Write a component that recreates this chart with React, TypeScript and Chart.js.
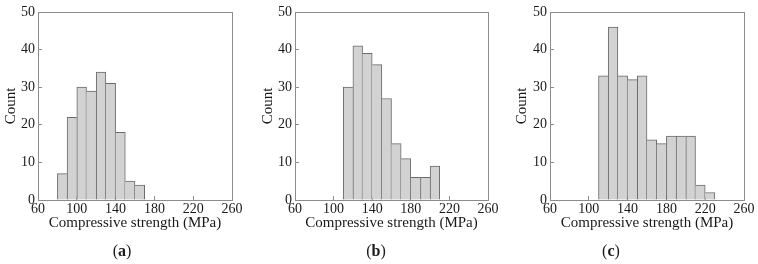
import React, { useEffect, useRef } from "react";
import { Chart, registerables } from "chart.js";

Chart.register(...registerables);

// ---- data ----
const binCentersA = [85, 95, 105, 115, 125, 135, 145, 155, 165];
const countsA = [7, 22, 30, 29, 34, 31, 18, 5, 4];

const binCentersB = [115, 125, 135, 145, 155, 165, 175, 185, 195, 205];
const countsB = [30, 41, 39, 36, 27, 15, 11, 6, 6, 9];

const binCentersC = [115, 125, 135, 145, 155, 165, 175, 185, 195, 205, 215, 225];
const countsC = [33, 46, 33, 32, 33, 16, 15, 17, 17, 17, 4, 2];

const xMin = 60;
const xMax = 260;
const xStep = 40;
const yMin = 0;
const yMax = 50;
const yStep = 10;

const xTitle = "Compressive strength (MPa)";
const yTitle = "Count";
const panelLetters = ["a", "b", "c"];

// ---- layout / style ----
const FONT = "'Liberation Serif', 'Times New Roman', serif";
const PAGE_H = 264;
const CANVAS_TOP = -8; // canvas starts above page so the top padding dominates
const CANVAS_H = PAGE_H - CANVAS_TOP;
const TOP = 12; // chart area top in page coords
const BOTTOM = 200; // chart area bottom in page coords
const RIGHT_PAD = 24;

const panels = [
  { centers: binCentersA, counts: countsA, canvasLeft: 0, areaLeft: 38, areaRight: 232, yTitleCenter: 11, labelCenter: 122 },
  { centers: binCentersB, counts: countsB, canvasLeft: 250, areaLeft: 295, areaRight: 488, yTitleCenter: 268, labelCenter: 376 },
  { centers: binCentersC, counts: countsC, canvasLeft: 500, areaLeft: 550, areaRight: 744, yTitleCenter: 522, labelCenter: 611 },
];

const boxPlugin = {
  id: "boxFrame",
  afterDatasetsDraw(chart: any) {
    const { left, top, right, bottom } = chart.chartArea;
    const ctx = chart.ctx;
    ctx.save();
    ctx.strokeStyle = "#8c8c8c";
    ctx.lineWidth = 1;
    const l = Math.round(left) + 0.5;
    const t = Math.round(top) + 0.5;
    const r = Math.round(right) + 0.5;
    const b = Math.round(bottom) + 0.5;
    ctx.strokeRect(l, t, r - l, b - t);
    ctx.restore();
  },
};

function Panel({ p }: { p: (typeof panels)[number] }) {
  const ref = useRef<HTMLCanvasElement | null>(null);
  const width = p.areaRight + RIGHT_PAD - p.canvasLeft;
  useEffect(() => {
    if (!ref.current) return;
    const counts = p.counts;
    const last = counts.length - 1;
    const chart = new Chart(ref.current, {
      type: "bar",
      data: {
        datasets: [
          {
            data: p.centers.map((c, i) => ({ x: c, y: counts[i] })),
            backgroundColor: "#d2d2d2",
            borderColor: "#6a6a6a",
            borderWidth: (ctx: any) => {
              const i = ctx.dataIndex;
              return {
                top: 1,
                bottom: 0,
                left: i === 0 || counts[i - 1] <= counts[i] ? 1 : 0,
                right: i === last || counts[i + 1] < counts[i] ? 1 : 0,
              };
            },
            borderSkipped: false,
            barPercentage: 1,
            categoryPercentage: 1,
          } as any,
        ],
      },
      options: {
        animation: false,
        responsive: false,
        maintainAspectRatio: false,
        events: [],
        layout: {
          padding: { top: TOP - CANVAS_TOP, left: 0, right: RIGHT_PAD, bottom: 0 },
        },
        plugins: {
          legend: { display: false },
          tooltip: { enabled: false },
        },
        scales: {
          x: {
            type: "linear",
            min: xMin,
            max: xMax,
            offset: false,
            grid: {
              offset: false,
              drawOnChartArea: false,
              drawTicks: true,
              tickLength: -4,
              color: "#8c8c8c",
            },
            border: { display: false },
            ticks: {
              stepSize: xStep,
              padding: 5,
              color: "#1a1a1a",
              font: { family: FONT, size: 14 },
              maxRotation: 0,
              autoSkip: false,
            },
            title: {
              display: true,
              text: xTitle,
              color: "#1a1a1a",
              font: { family: FONT, size: 15, lineHeight: 1.2 },
              padding: { top: 0, bottom: 32 },
            },
            afterFit: (scale: any) => {
              scale.height = PAGE_H - BOTTOM;
            },
          },
          y: {
            type: "linear",
            min: yMin,
            max: yMax,
            grid: {
              drawOnChartArea: false,
              drawTicks: true,
              tickLength: -4,
              color: "#8c8c8c",
            },
            border: { display: false },
            ticks: {
              stepSize: yStep,
              padding: 7,
              color: "#1a1a1a",
              font: { family: FONT, size: 14 },
            },
            title: {
              display: true,
              text: yTitle,
              color: "#1a1a1a",
              font: { family: FONT, size: 15, lineHeight: 1.2 },
              padding: { top: p.yTitleCenter - p.canvasLeft - 9, bottom: 0 },
            },
            afterFit: (scale: any) => {
              scale.width = p.areaLeft - p.canvasLeft;
            },
          },
        },
      },
      plugins: [boxPlugin],
    } as any);
    return () => chart.destroy();
  }, [p]);
  return (
    <canvas
      ref={ref}
      width={width}
      height={CANVAS_H}
      style={{ position: "absolute", left: p.canvasLeft, top: CANVAS_TOP, width, height: CANVAS_H }}
    />
  );
}

export default function App() {
  return (
    <div style={{ position: "fixed", left: 0, top: 0, width: 758, height: PAGE_H, background: "#fff", overflow: "hidden" }}>
      {panels.map((p, i) => (
        <React.Fragment key={i}>
          <Panel p={p} />
          <div
            style={{
              position: "absolute",
              left: p.labelCenter - 40,
              width: 80,
              top: 241,
              height: 20,
              lineHeight: "20px",
              textAlign: "center",
              fontFamily: FONT,
              fontSize: 16,
              color: "#1a1a1a",
            }}
          >
            (<b>{panelLetters[i]}</b>)
          </div>
        </React.Fragment>
      ))}
    </div>
  );
}
